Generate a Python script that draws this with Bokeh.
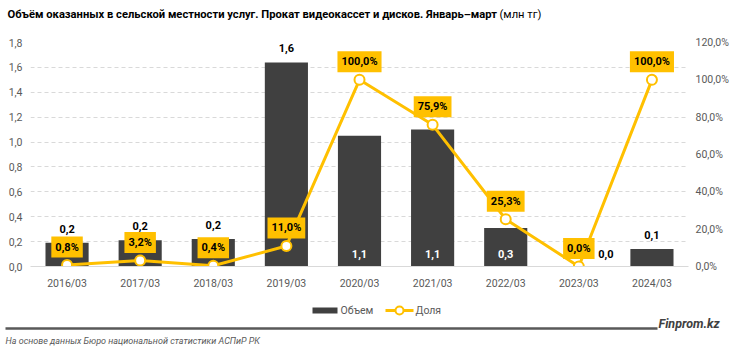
from bokeh.plotting import figure
from bokeh.models import Range1d, LinearAxis, FixedTicker, Label, ColumnDataSource
from bokeh.layouts import column
from bokeh.embed import file_html
from bokeh.resources import INLINE
from bokeh.core.properties import value

# ---------------- data ----------------
categories = ["2016/03", "2017/03", "2018/03", "2019/03", "2020/03",
              "2021/03", "2022/03", "2023/03", "2024/03"]
volume = [0.19, 0.21, 0.22, 1.64, 1.05, 1.10, 0.31, 0.0, 0.14]
volume_labels = ["0,2", "0,2", "0,2", "1,6", "1,1", "1,1", "0,3", "0,0", "0,1"]
share = [0.8, 3.2, 0.4, 11.0, 100.0, 75.9, 25.3, 0.0, 100.0]
share_labels = ["0,8%", "3,2%", "0,4%", "11,0%", "100,0%", "75,9%", "25,3%", "0,0%", "100,0%"]
left_ticks = [0.0, 0.2, 0.4, 0.6, 0.8, 1.0, 1.2, 1.4, 1.6, 1.8]
left_tick_labels = ["0,0", "0,2", "0,4", "0,6", "0,8", "1,0", "1,2", "1,4", "1,6", "1,8"]
right_ticks = [0, 20, 40, 60, 80, 100, 120]
right_tick_labels = ["0,0%", "20,0%", "40,0%", "60,0%", "80,0%", "100,0%", "120,0%"]
title_text = "Объём оказанных в сельской местности услуг. Прокат видеокассет и дисков. Январь–март"
title_unit = "(млн тг)"
legend_labels = ["Объем", "Доля"]
source_text = "На основе данных Бюро национальной статистики АСПиР РК"
brand_text = "Finprom.kz"

# label placement style per category: above bar / inside at base / right of base
label_place = ["above", "above", "above", "above", "base", "base", "base", "right", "above"]

BAR = "#404040"
GOLD = "#FFC000"
GREY = "#595959"
FONT = "Roboto"
W = 731

# ---------------- header ----------------
h = figure(width=W, height=32, x_range=Range1d(0, W), y_range=Range1d(32, 0),
           output_backend="svg", toolbar_location=None, min_border=0,
           x_axis_type=None, y_axis_type=None, outline_line_color=None,
           frame_align=False)
h.grid.visible = False
h.text(x=[7], y=[14], text=[title_text], text_font=value(FONT),
       text_font_style="bold", text_font_size="11.2px", text_baseline="middle",
       text_color="#000000")
h.text(x=[499], y=[14], text=[title_unit], text_font=value(FONT),
       text_font_style="normal", text_font_size="11.2px", text_baseline="middle",
       text_color="#000000")

# ---------------- main chart ----------------
idx = list(range(len(categories)))
src = ColumnDataSource(dict(x=idx, vol=volume, share=share))

p = figure(width=W, height=268, x_range=Range1d(-0.5, len(categories) - 0.5),
           y_range=Range1d(0, 1.8), output_backend="svg", toolbar_location=None,
           min_border_left=30, min_border_right=43, min_border_top=10,
           min_border_bottom=34, outline_line_color=None, frame_align=False)
p.extra_y_ranges = {"pct": Range1d(0, 120)}

p.xaxis.ticker = FixedTicker(ticks=idx)
p.xaxis.major_label_overrides = {i: c for i, c in enumerate(categories)}
p.yaxis.ticker = FixedTicker(ticks=left_ticks)
p.yaxis.major_label_overrides = dict(zip(left_ticks, left_tick_labels))

ra = LinearAxis(y_range_name="pct", ticker=FixedTicker(ticks=right_ticks),
                major_label_overrides=dict(zip(right_ticks, right_tick_labels)))
p.add_layout(ra, "right")

for ax in [p.xaxis[0], p.yaxis[0], ra]:
    ax.major_tick_line_color = None
    ax.minor_tick_line_color = None
    ax.major_tick_out = 0
    ax.major_tick_in = 0
    ax.minor_tick_out = 0
    ax.major_label_text_font = FONT
    ax.major_label_text_font_size = "10.5px"
    ax.major_label_text_color = GREY
p.yaxis[0].axis_line_color = None
ra.axis_line_color = None
p.yaxis[0].major_label_standoff = 8
ra.major_label_standoff = 7
p.xaxis[0].axis_line_color = "#d9d9d9"
p.xaxis[0].major_label_standoff = 10

p.xgrid.visible = False
p.ygrid.grid_line_color = "#d9d9d9"
p.ygrid.grid_line_dash = "4 3"

p.vbar(x="x", top="vol", width=0.59, source=src, fill_color=BAR, line_color=None)
p.line(x="x", y="share", source=src, y_range_name="pct", line_color=GOLD, line_width=3)
p.scatter(x="x", y="share", source=src, y_range_name="pct", size=10,
          fill_color="white", line_color=GOLD, line_width=2)

for i in idx:
    place = label_place[i]
    if place == "above":
        lab = Label(x=i, y=volume[i], y_offset=14, text=volume_labels[i], text_color="#000000")
    elif place == "base":
        lab = Label(x=i, y=0, y_offset=13, text=volume_labels[i], text_color="#FFFFFF")
    else:
        lab = Label(x=i, y=0, y_offset=13, x_offset=27, text=volume_labels[i], text_color="#000000")
    lab.text_font = FONT
    lab.text_font_style = "bold"
    lab.text_font_size = "11px"
    lab.text_align = "center"
    lab.text_baseline = "middle"
    p.add_layout(lab)

for i in idx:
    p.add_layout(Label(x=i, y=share[i], y_range_name="pct", y_offset=18,
                       text=share_labels[i], text_font=FONT, text_font_style="bold",
                       text_font_size="11px", text_color="#000000",
                       text_align="center", text_baseline="middle",
                       background_fill_color=GOLD, padding=4))

# ---------------- footer ----------------
f = figure(width=W, height=53, x_range=Range1d(0, W), y_range=Range1d(353, 300),
           output_backend="svg", toolbar_location=None, min_border=0,
           x_axis_type=None, y_axis_type=None, outline_line_color=None,
           frame_align=False)
f.grid.visible = False
f.rect(x=[324.5], y=[310], width=25, height=6, fill_color=BAR, line_color=None)
f.text(x=[340], y=[310], text=[legend_labels[0]], text_font=value(FONT),
       text_font_size="10.5px", text_color=GREY, text_baseline="middle")
f.line(x=[385, 413], y=[310, 310], line_color=GOLD, line_width=3)
f.scatter(x=[399], y=[310], size=8, fill_color="white", line_color=GOLD, line_width=2)
f.text(x=[415], y=[310], text=[legend_labels[1]], text_font=value(FONT),
       text_font_size="10.5px", text_color=GREY, text_baseline="middle")
f.segment(x0=[5], y0=[328], x1=[657], y1=[328], line_color=GREY, line_width=2.5)
f.text(x=[658], y=[323], text=[brand_text], text_font=value(FONT),
       text_font_style="bold italic", text_font_size="12.5px", text_color="#404040",
       text_baseline="middle")
f.text(x=[5], y=[340], text=[source_text], text_font=value(FONT),
       text_font_style="italic", text_font_size="9px", text_color=GREY,
       text_baseline="middle")

layout = column(h, p, f, spacing=0)
open("out.html", "w").write(file_html(layout, INLINE))
